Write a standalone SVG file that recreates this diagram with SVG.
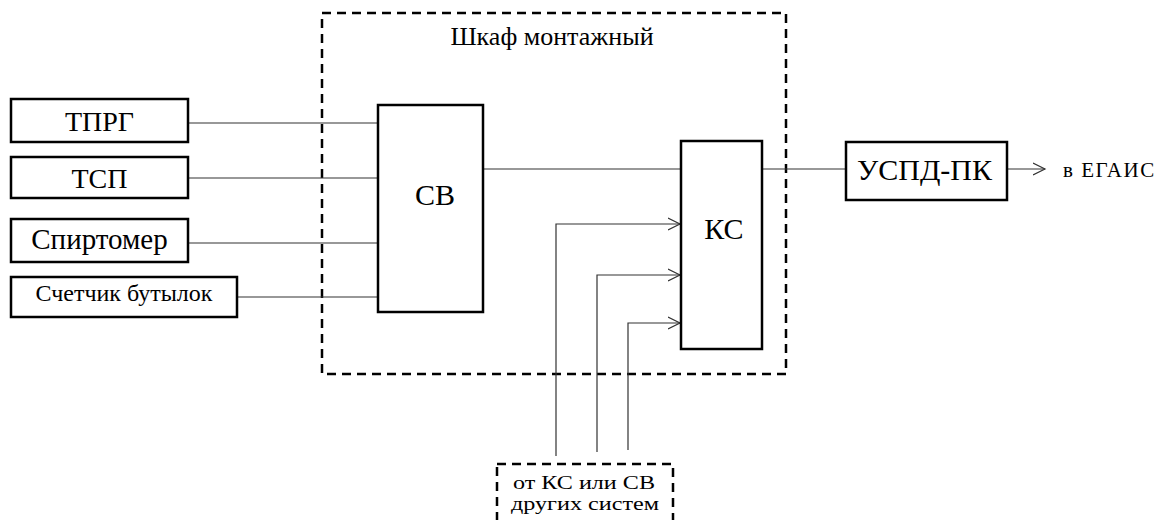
<svg xmlns="http://www.w3.org/2000/svg" width="1168" height="520" viewBox="0 0 1168 520">
<style>
.box{fill:#fff;stroke:#000;stroke-width:2.5}
.dash{fill:none;stroke:#000;stroke-width:2.5;stroke-dasharray:9 6}
.ln{fill:none;stroke:#333;stroke-width:1.2}
.tx{font-family:'Liberation Serif','Times New Roman',serif;fill:#000;text-anchor:middle}
</style>
<defs>
<marker id="arr" markerWidth="14" markerHeight="14" refX="12" refY="7" orient="auto" markerUnits="userSpaceOnUse">
<polyline points="0,1 12,7 0,13" fill="none" stroke="#333" stroke-width="1.2"/>
</marker>
</defs>
<g id="cabinet">
<rect class="dash" x="322" y="13" width="464" height="361"/>
<text class="tx" x="552" y="45" font-size="26">Шкаф монтажный</text>
</g>
<g id="others">
<rect class="dash" x="497" y="464" width="176" height="70"/>
<text class="tx" x="584" y="489" font-size="19" textLength="142" lengthAdjust="spacingAndGlyphs">от КС или СВ</text>
<text class="tx" x="585" y="510" font-size="19" textLength="148" lengthAdjust="spacingAndGlyphs">других систем</text>
</g>
<g id="connectors">
<line class="ln" x1="188" y1="123" x2="378" y2="123"/>
<line class="ln" x1="188" y1="178" x2="378" y2="178"/>
<line class="ln" x1="188" y1="243" x2="378" y2="243"/>
<line class="ln" x1="237" y1="297" x2="378" y2="297"/>
<line class="ln" x1="483" y1="169" x2="681" y2="169"/>
<line class="ln" x1="762" y1="169" x2="846" y2="169"/>
<polyline class="ln" points="556,456 556,224 680,224" marker-end="url(#arr)"/>
<polyline class="ln" points="597,452 597,275 680,275" marker-end="url(#arr)"/>
<polyline class="ln" points="628,450 628,323 680,323" marker-end="url(#arr)"/>
<line class="ln" x1="1007" y1="169" x2="1045" y2="169" marker-end="url(#arr)"/>
</g>
<g id="tprg"><rect class="box" x="11" y="99" width="177" height="43"/><text class="tx" x="99.5" y="131" font-size="28">ТПРГ</text></g>
<g id="tsp"><rect class="box" x="11" y="157" width="177" height="41"/><text class="tx" x="99.5" y="188" font-size="28">ТСП</text></g>
<g id="spirtomer"><rect class="box" x="11" y="219" width="177" height="43"/><text class="tx" x="99.5" y="249" font-size="29">Спиртомер</text></g>
<g id="counter"><rect class="box" x="11" y="277" width="226" height="40"/><text class="tx" x="124" y="301" font-size="24">Счетчик бутылок</text></g>
<g id="sv"><rect class="box" x="378" y="105" width="105" height="207"/><text class="tx" x="435" y="205" font-size="30">СВ</text></g>
<g id="ks"><rect class="box" x="681" y="141" width="81" height="208"/><text class="tx" x="724" y="239" font-size="30">КС</text></g>
<g id="uspd"><rect class="box" x="846" y="142" width="161" height="58"/><text class="tx" x="924.5" y="180" font-size="30">УСПД-ПК</text></g>
<g id="egais"><text class="tx" x="1063" y="177" font-size="21" letter-spacing="1.5" style="text-anchor:start">в  ЕГАИС</text></g>
</svg>
